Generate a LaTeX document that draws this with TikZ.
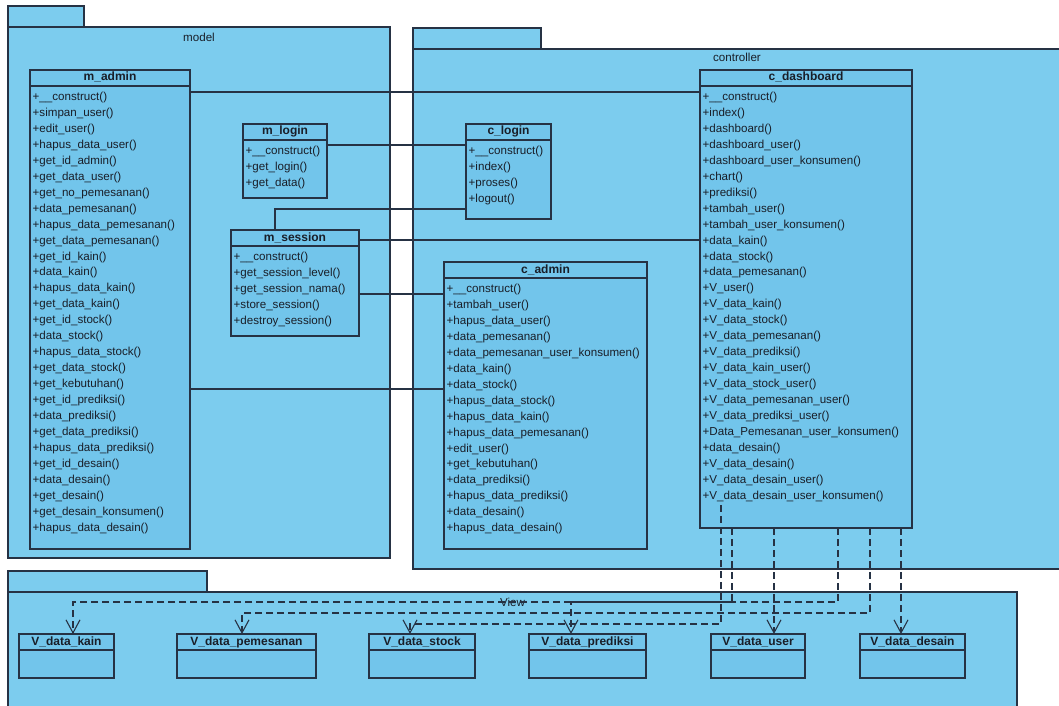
\documentclass[tikz,border=0pt]{standalone}
\usepackage{fontspec}
\setmainfont{Liberation Sans}
\usetikzlibrary{arrows.meta}
\definecolor{pkgfill}{RGB}{124,204,238}
\definecolor{clsfill}{RGB}{114,197,235}
\definecolor{edgec}{RGB}{38,50,68}
\definecolor{txtc}{RGB}{25,30,40}
\tikzset{
  pkgbox/.style={draw=edgec, fill=pkgfill, line width=1.1pt, anchor=north west, inner sep=0, outer sep=0},
  pkgtab/.style={draw=edgec, fill=pkgfill, line width=1.1pt, anchor=south west, inner sep=0, outer sep=0},
  pkglabel/.style={font=\fontsize{11.6}{13}\selectfont, text=txtc, inner sep=0},
  clsbox/.style={draw=edgec, fill=clsfill, line width=1.1pt, anchor=north west, inner sep=0, outer sep=0},
  clstitle/.style={font=\bfseries\fontsize{12}{13}\selectfont, text=txtc, inner sep=0, text height=8.5pt, text depth=2.5pt},
  meth/.style={font=\fontsize{11.6}{13}\selectfont, text=txtc, anchor=west, inner sep=0, text height=8.5pt, text depth=2.5pt},
  assoc/.style={draw=edgec, line width=1.1pt},
  dep/.style={draw=edgec, line width=1.1pt, dash pattern=on 7pt off 4pt, -{Straight Barb[length=13pt,width=14pt,line width=1.1pt]}}
}
\newcommand\umlclass[7]{%
  \node[clsbox, minimum width=#5pt, minimum height=#6pt] (#1) at (#3,#4) {};
  \draw[assoc] ([yshift=-16pt]#1.north west) -- ([yshift=-16pt]#1.north east);
  \node[clstitle] (#1-t) at ([yshift=-8pt]#1.north) {#2};
  \foreach \m [count=\i from 0] in {#7} {
    \node[meth] (#1-m\i) at ([xshift=2.5pt,yshift={-27.5pt-15.95pt*\i}]#1.north west) {\m};
  }
}
\newcommand\viewclass[5]{%
  \node[clsbox, minimum width=#5pt, minimum height=44pt] (#1) at (#3,#4) {};
  \draw[assoc] ([yshift=-16pt]#1.north west) -- ([yshift=-16pt]#1.north east);
  \node[clstitle] (#1-t) at ([yshift=-8pt]#1.north) {#2};
}
\begin{document}
\begin{tikzpicture}[x=1pt,y=-1pt]
\useasboundingbox[fill=white] (0,0) rectangle (1059,706);

% packages
\node[pkgbox, minimum width=382pt, minimum height=531pt] (model) at (8,27) {};
\node[pkgtab, minimum width=76pt, minimum height=21pt] (modeltab) at (8,27) {};
\node[pkglabel] (modellabel) at ([yshift=-10pt]model.north) {model};

\node[pkgbox, minimum width=648pt, minimum height=520pt] (controller) at (413,49) {};
\node[pkgtab, minimum width=128pt, minimum height=21pt] (controllertab) at (413,49) {};
\node[pkglabel] (controllerlabel) at ([yshift=-8pt]controller.north) {controller};

\node[pkgbox, minimum width=1009pt, minimum height=140pt] (view) at (8,592) {};
\node[pkgtab, minimum width=199pt, minimum height=21pt] (viewtab) at (8,592) {};
\node[pkglabel] (viewlabel) at ([yshift=-10pt]view.north) {View};

% classes
\umlclass{madmin}{m\_admin}{30}{70}{160}{479}{+\_\_construct(),+simpan\_user(),+edit\_user(),+hapus\_data\_user(),+get\_id\_admin(),+get\_data\_user(),+get\_no\_pemesanan(),+data\_pemesanan(),+hapus\_data\_pemesanan(),+get\_data\_pemesanan(),+get\_id\_kain(),+data\_kain(),+hapus\_data\_kain(),+get\_data\_kain(),+get\_id\_stock(),+data\_stock(),+hapus\_data\_stock(),+get\_data\_stock(),+get\_kebutuhan(),+get\_id\_prediksi(),+data\_prediksi(),+get\_data\_prediksi(),+hapus\_data\_prediksi(),+get\_id\_desain(),+data\_desain(),+get\_desain(),+get\_desain\_konsumen(),+hapus\_data\_desain()}

\umlclass{mlogin}{m\_login}{243}{124}{84}{74}{+\_\_construct(),+get\_login(),+get\_data()}

\umlclass{msession}{m\_session}{231}{230}{128}{106}{+\_\_construct(),+get\_session\_level(),+get\_session\_nama(),+store\_session(),+destroy\_session()}

\umlclass{clogin}{c\_login}{466}{124}{85}{95}{+\_\_construct(),+index(),+proses(),+logout()}

\umlclass{cadmin}{c\_admin}{444}{262}{203}{287}{+\_\_construct(),+tambah\_user(),+hapus\_data\_user(),+data\_pemesanan(),+data\_pemesanan\_user\_konsumen(),+data\_kain(),+data\_stock(),+hapus\_data\_stock(),+hapus\_data\_kain(),+hapus\_data\_pemesanan(),+edit\_user(),+get\_kebutuhan(),+data\_prediksi(),+hapus\_data\_prediksi(),+data\_desain(),+hapus\_data\_desain()}

\umlclass{cdash}{c\_dashboard}{700}{70}{212}{458}{+\_\_construct(),+index(),+dashboard(),+dashboard\_user(),+dashboard\_user\_konsumen(),+chart(),+prediksi(),+tambah\_user(),+tambah\_user\_konsumen(),+data\_kain(),+data\_stock(),+data\_pemesanan(),+V\_user(),+V\_data\_kain(),+V\_data\_stock(),+V\_data\_pemesanan(),+V\_data\_prediksi(),+V\_data\_kain\_user(),+V\_data\_stock\_user(),+V\_data\_pemesanan\_user(),+V\_data\_prediksi\_user(),+Data\_Pemesanan\_user\_konsumen(),+data\_desain(),+V\_data\_desain(),+V\_data\_desain\_user(),+V\_data\_desain\_user\_konsumen()}

\viewclass{vkain}{V\_data\_kain}{19}{634}{95}
\viewclass{vpem}{V\_data\_pemesanan}{177}{634}{139}
\viewclass{vstock}{V\_data\_stock}{369}{634}{106}
\viewclass{vpred}{V\_data\_prediksi}{529}{634}{117}
\viewclass{vuser}{V\_data\_user}{711}{634}{94}
\viewclass{vdes}{V\_data\_desain}{860}{634}{105}

% associations
\draw[assoc] ([yshift=-22pt]madmin.north east) -- ([yshift=-22pt]cdash.north west);
\draw[assoc] ([yshift=-21pt]mlogin.north east) -- ([yshift=-21pt]clogin.north west);
\draw[assoc] ([yshift=-85pt]clogin.north west) -| ([xshift=44pt]msession.north west);
\draw[assoc] ([yshift=-10pt]msession.north east) -- ([yshift=-170pt]cdash.north west);
\draw[assoc] ([yshift=-64pt]msession.north east) -- ([yshift=-32pt]cadmin.north west);
\draw[assoc] ([yshift=-319pt]madmin.north east) -- ([yshift=-127pt]cadmin.north west);

% dependencies
\draw[dep] ([xshift=21pt,yshift=23pt]cdash.south west) -- ++(0,119) -| ([xshift=41pt]vstock.north west);
\draw[dep] ([xshift=32pt]cdash.south west) -- ++(0,74) -| ([xshift=42pt]vpred.north west);
\draw[dep] ([xshift=74pt]cdash.south west) -- ([xshift=63pt]vuser.north west);
\draw[dep] ([xshift=138pt]cdash.south west) -- ++(0,74) -| ([xshift=54pt]vkain.north west);
\draw[dep] ([xshift=170pt]cdash.south west) -- ++(0,85) -| ([xshift=65pt]vpem.north west);
\draw[dep] ([xshift=201pt]cdash.south west) -- ([xshift=41pt]vdes.north west);
\end{tikzpicture}
\end{document}
